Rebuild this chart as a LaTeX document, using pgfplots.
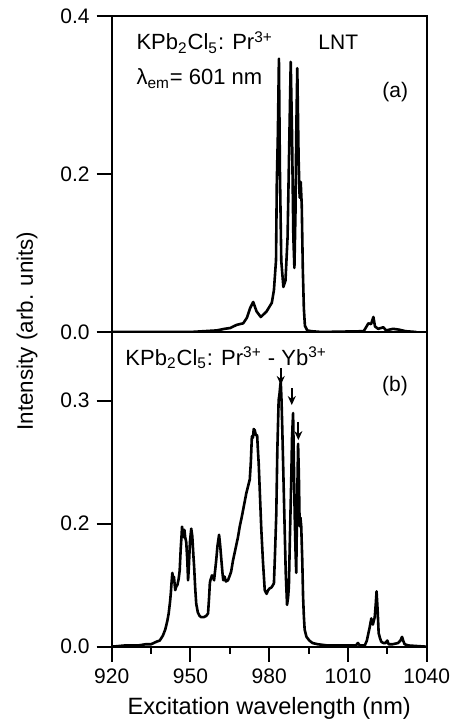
\documentclass[border=0pt]{standalone}
\usepackage{fontspec}
\setmainfont{Liberation Sans}
\usepackage{pgfplots}
\usepackage{pgfplotstable}
\pgfplotsset{compat=1.18}
\usetikzlibrary{arrows.meta}

\pgfplotstableread{
x y
920 0.000
940 0.000
950 0.000
955 0.001
960 0.002
963 0.004
965.1 0.005
967.6 0.009
970.1 0.011
971.5 0.018
972.7 0.030
973.9 0.038
975.2 0.026
976.8 0.019
979.0 0.026
981.0 0.037
981.8 0.053
982.6 0.091
982.9 0.19
983.3 0.25
983.7 0.346
984.1 0.20
984.6 0.09
985.4 0.057
986.2 0.065
987.0 0.12
987.7 0.25
988.2 0.342
988.7 0.25
989.2 0.12
989.6 0.081
990.0 0.15
990.3 0.25
990.7 0.334
991.2 0.22
991.6 0.17
992.0 0.19
992.4 0.16
992.8 0.08
993.2 0.03
993.6 0.008
994.5 0.002
996 0.001
1000 0.000
1016 0.001
1017.8 0.011
1018.8 0.010
1019.7 0.019
1020.3 0.007
1021.5 0.004
1023.5 0.006
1024.5 0.002
1027.2 0.004
1029.4 0.003
1032 0.001
1036 0.000
}\dataA

\pgfplotstableread{
x y
920 0.000
925 0.001
930 0.001
933 0.002
935 0.002
937 0.004
938.3 0.005
939.5 0.009
940.4 0.014
941.2 0.021
941.7 0.027
942.2 0.036
942.5 0.043
942.8 0.052
943.1 0.060
943.4 0.055
943.7 0.057
944.2 0.046
944.6 0.049
945.0 0.050
945.5 0.055
945.9 0.062
946.3 0.080
946.6 0.090
946.8 0.0976
947.1 0.092
947.4 0.089
947.7 0.095
948.0 0.089
948.4 0.085
948.8 0.070
949.1 0.054
949.4 0.065
949.8 0.085
950.3 0.096
950.7 0.090
951.1 0.075
951.4 0.065
951.8 0.048
952.2 0.035
952.8 0.028
953.5 0.025
954.1 0.024
955 0.024
956 0.025
956.7 0.027
957.1 0.040
957.4 0.052
957.6 0.054
958.2 0.058
958.6 0.057
959.0 0.054
959.4 0.062
959.8 0.070
960.3 0.082
960.9 0.091
961.3 0.083
961.8 0.070
962.2 0.060
962.5 0.054
963.0 0.057
963.5 0.053
964.3 0.054
965.0 0.058
965.5 0.061
966.2 0.070
966.8 0.076
967.5 0.083
968.1 0.089
968.8 0.098
969.6 0.106
970.4 0.115
971.3 0.125
972.0 0.131
972.6 0.136
973.0 0.150
973.4 0.171
973.8 0.170
974.1 0.177
974.5 0.176
974.9 0.172
975.4 0.172
975.7 0.160
976.0 0.149
976.5 0.122
977.0 0.095
977.6 0.070
978.3 0.046
979.0 0.043
979.6 0.046
980.2 0.0475
980.8 0.048
981.4 0.050
981.8 0.0515
982.2 0.075
982.7 0.108
983.1 0.160
983.6 0.2006
983.9 0.205
984.2 0.212
984.4 0.2155
984.7 0.200
985.0 0.176
985.4 0.140
985.9 0.095
986.3 0.060
986.8 0.034
987.2 0.040
987.5 0.049
987.9 0.090
988.4 0.136
988.7 0.170
989.1 0.190
989.4 0.150
989.7 0.108
990.0 0.080
990.3 0.060
990.6 0.110
991.0 0.165
991.3 0.140
991.6 0.098
991.9 0.105
992.2 0.098
992.6 0.070
992.9 0.041
993.2 0.025
993.5 0.014
994.2 0.008
995.3 0.005
996.5 0.003
998.5 0.002
1002.3 0.001
1010 0.001
1013 0.001
1013.8 0.003
1014.5 0.001
1016.4 0.001
1017.2 0.005
1017.8 0.011
1018.3 0.016
1018.9 0.023
1019.5 0.018
1020.2 0.024
1020.6 0.035
1020.9 0.045
1021.3 0.030
1021.7 0.011
1022.2 0.007
1022.7 0.004
1023.5 0.003
1024.3 0.003
1025.0 0.005
1025.5 0.002
1027 0.002
1029.1 0.003
1030.0 0.005
1030.6 0.008
1031.2 0.004
1031.6 0.002
1033 0.001
1040 0.000
}\dataB

\begin{document}
\begin{tikzpicture}
\pgfplotsset{common/.style={
  scale only axis, width=157.5pt, xmin=920, xmax=1040,
  axis line style={line width=1.1pt},
  tick style={line width=1pt, black},
  tick align=outside, xtick pos=bottom, ytick pos=left,
  ticklabel style={font=\fontsize{10.5}{12}\selectfont},
  /pgf/number format/assume math mode=true,
  /pgf/number format/1000 sep={},
  every axis plot/.append style={black, line width=1.3pt, line join=round},
}}
% bottom panel (b)
\begin{axis}[common, at={(0,0)}, anchor=south west, height=157.35pt,
  ymin=0, ymax=0.2559,
  ytick={0,0.1,0.2}, yticklabels={0.0,0.2,0.3},
  xtick={920,950,...,1040}, minor xtick={935,965,995,1025},
  major tick length=7.5pt, minor tick length=3.5pt]
\addplot[mark=none] table[x=x,y=y] {\dataB};
\node[anchor=base west, font=\fontsize{11}{12}\selectfont, inner sep=0pt] at (axis cs:925.1,0.229) {KPb\textsubscript{2}Cl\textsubscript{5}: Pr\textsuperscript{3+} - Yb\textsuperscript{3+}};
\node[anchor=base west, font=\fontsize{10.5}{12}\selectfont, inner sep=0pt] at (axis cs:1022.9,0.2073) {(b)};
\draw[line width=1pt, -{Stealth[length=4.5pt,width=4pt]}] (axis cs:984.4,0.2266) -- (axis cs:984.4,0.2128);
\draw[line width=1pt, -{Stealth[length=4.5pt,width=4pt]}] (axis cs:988.6,0.2103) -- (axis cs:988.6,0.1965);
\draw[line width=1pt, -{Stealth[length=4.5pt,width=4pt]}] (axis cs:991.1,0.1830) -- (axis cs:991.1,0.1680);
\end{axis}
% top panel (a)
\begin{axis}[common, at={(0,157.35pt)}, anchor=south west, height=158pt,
  ymin=0, ymax=0.4,
  ytick={0,0.2,0.4},
  yticklabel style={/pgf/number format/.cd, fixed, fixed zerofill, precision=1},
  xtick=\empty, minor xtick={920,935,...,1040},
  major tick length=7.5pt, minor tick length=4pt]
\addplot[mark=none] table[x=x,y=y] {\dataA};
\node[anchor=base west, font=\fontsize{11}{12}\selectfont, inner sep=0pt] at (axis cs:929.3,0.357) {KPb\textsubscript{2}Cl\textsubscript{5}: Pr\textsuperscript{3+}};
\node[anchor=base west, font=\fontsize{11}{12}\selectfont, inner sep=0pt] at (axis cs:929.3,0.3127) {λ\textsubscript{em}= 601 nm};
\node[anchor=base west, font=\fontsize{10.5}{12}\selectfont, inner sep=0pt] at (axis cs:998.6,0.357) {LNT};
\node[anchor=base west, font=\fontsize{10.5}{12}\selectfont, inner sep=0pt] at (axis cs:1023.0,0.297) {(a)};
\end{axis}
\node[rotate=90, font=\fontsize{11.2}{13}\selectfont] at (-42.35pt,157.85pt) {Intensity (arb. units)};
\node[font=\fontsize{11.8}{13}\selectfont] at (78.75pt,-30.65pt) {Excitation wavelength (nm)};
\pgfresetboundingbox
\path[use as bounding box] (-55.85pt,-37.15pt) rectangle (170.65pt,323.35pt);
\end{tikzpicture}
\end{document}
